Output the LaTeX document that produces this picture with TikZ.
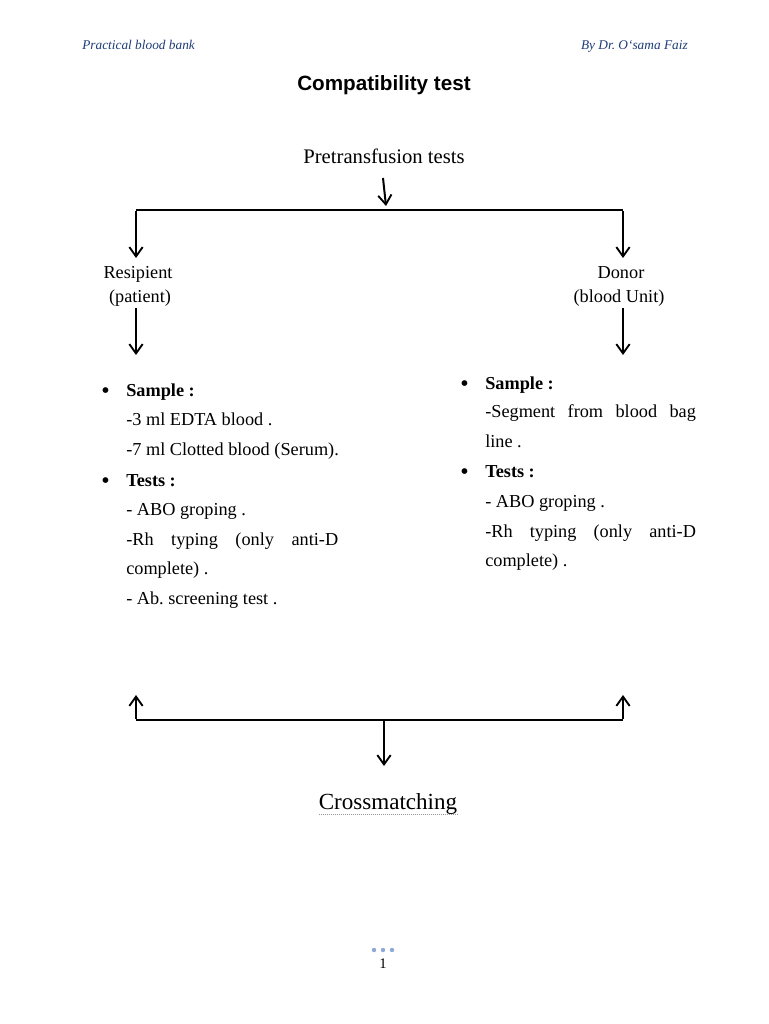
\documentclass[tikz,border=0pt]{standalone}
\usepackage{fontspec}
\setmainfont{Liberation Serif}
\newfontfamily\arialf{Liberation Sans}
\usetikzlibrary{arrows.meta}
\definecolor{hdrblue}{HTML}{1F3C78}
\definecolor{dotblue}{HTML}{8FA8D8}
\frenchspacing
\begin{document}
\begin{tikzpicture}[x=0.75pt,y=-0.75pt,
  conn/.style={line width=1.5pt},
  arr/.style={line width=1.5pt,-{Straight Barb[length=7pt,width=10pt,line width=1.4pt]}},
  body/.style={inner sep=0pt,font=\fontsize{13.7pt}{16pt}\selectfont,anchor=base west},
  bul/.style={inner sep=0pt,font=\fontsize{18pt}{16pt}\selectfont,anchor=base west},
  lbl/.style={inner sep=0pt,font=\fontsize{13.7pt}{16pt}\selectfont,anchor=base},
  hdr/.style={inner sep=0pt,font=\fontsize{10pt}{12pt}\selectfont\itshape,text=hdrblue,anchor=base}]
\useasboundingbox[fill=white] (0,0) rectangle (768,1024);
% header
\node[hdr,anchor=base west] (hl) at (82,50) {Practical blood bank};
\node[hdr,anchor=base east] (hr) at (688,50) {By Dr. O`sama Faiz};
% title
\node[inner sep=0pt,anchor=base,font=\arialf\bfseries\fontsize{15.5pt}{18pt}\selectfont] (title) at (384,90) {Compatibility test};
% top
\node[inner sep=0pt,anchor=base,font=\fontsize{15.5pt}{18pt}\selectfont] (pre) at (384,163) {Pretransfusion tests};
\coordinate (a0) at (383,178);
\coordinate (a1) at (386,206);
\draw[arr] (a0) -- (a1);
\coordinate (tl) at (136,210);
\coordinate (tr) at (623,210);
\coordinate (tld) at (136,258);
\coordinate (trd) at (623,258);
\draw[conn] (tl) -- (tr);
\draw[arr] ([yshift=-0.75pt]tl) -- (tld);
\draw[arr] ([yshift=-0.75pt]tr) -- (trd);
\node[lbl] (res) at (138,278) {Resipient};
\node[lbl] (pat) at (140,302) {(patient)};
\node[lbl] (don) at (621,278) {Donor};
\node[lbl] (bu) at (619,302) {(blood Unit)};
\coordinate (l2a) at (136,308);
\coordinate (l2b) at (136,355);
\coordinate (r2a) at (623,308);
\coordinate (r2b) at (623,355);
\draw[arr] (l2a) -- (l2b);
\draw[arr] (r2a) -- (r2b);
% left block
\node[bul] (lb1) at (101,398) {\textbullet};
\node[body] (ls) at (126,396) {\textbf{Sample :}};
\node[body] (l1) at (126,425) {-3 ml EDTA blood .};
\node[body] (l2) at (126,455) {-7 ml Clotted blood (Serum).};
\node[bul] (lb2) at (101,488) {\textbullet};
\node[body] (lt) at (126,486) {\textbf{Tests :}};
\node[body] (l3) at (126,515) {- ABO groping .};
\node[body] (l4) at (126,545) {\makebox[159pt][s]{-Rh typing (only anti-D}};
\node[body] (l5) at (126,574) {complete) .};
\node[body] (l6) at (126,604) {- Ab. screening test .};
% right block
\node[bul] (rb1) at (460,391) {\textbullet};
\node[body] (rs) at (485,389) {\textbf{Sample :}};
\node[body] (r1) at (485,417) {\makebox[158pt][s]{-Segment from blood bag}};
\node[body] (r2) at (485,447) {line .};
\node[bul] (rb2) at (460,479) {\textbullet};
\node[body] (rt) at (485,477) {\textbf{Tests :}};
\node[body] (r3) at (485,507) {- ABO groping .};
\node[body] (r4) at (485,537) {\makebox[158pt][s]{-Rh typing (only anti-D}};
\node[body] (r5) at (485,566) {complete) .};
% bottom
\coordinate (bl) at (136,720);
\coordinate (br) at (623,720);
\coordinate (blu) at (136,695);
\coordinate (bru) at (623,695);
\coordinate (bm) at (384,720);
\coordinate (bmd) at (384,766);
\draw[conn] (bl) -- (br);
\draw[arr] ([yshift=0.75pt]bl) -- (blu);
\draw[arr] ([yshift=0.75pt]br) -- (bru);
\draw[arr] (bm) -- (bmd);
\node[inner sep=0pt,anchor=base,font=\fontsize{17.3pt}{20pt}\selectfont] (cm) at (388,809) {Crossmatching};
\draw[gray!80,line width=0.6pt,dash pattern=on 0.6pt off 0.9pt] (cm.base west |- 0,814) -- (cm.base east |- 0,814);
% page number
\foreach \xx [count=\i] in {374,383,392}
  \fill[dotblue] (\xx,950) circle (2.2);
\node[inner sep=0pt,anchor=base,font=\fontsize{11pt}{13pt}\selectfont] (pg) at (383,968) {1};
\end{tikzpicture}
\end{document}
